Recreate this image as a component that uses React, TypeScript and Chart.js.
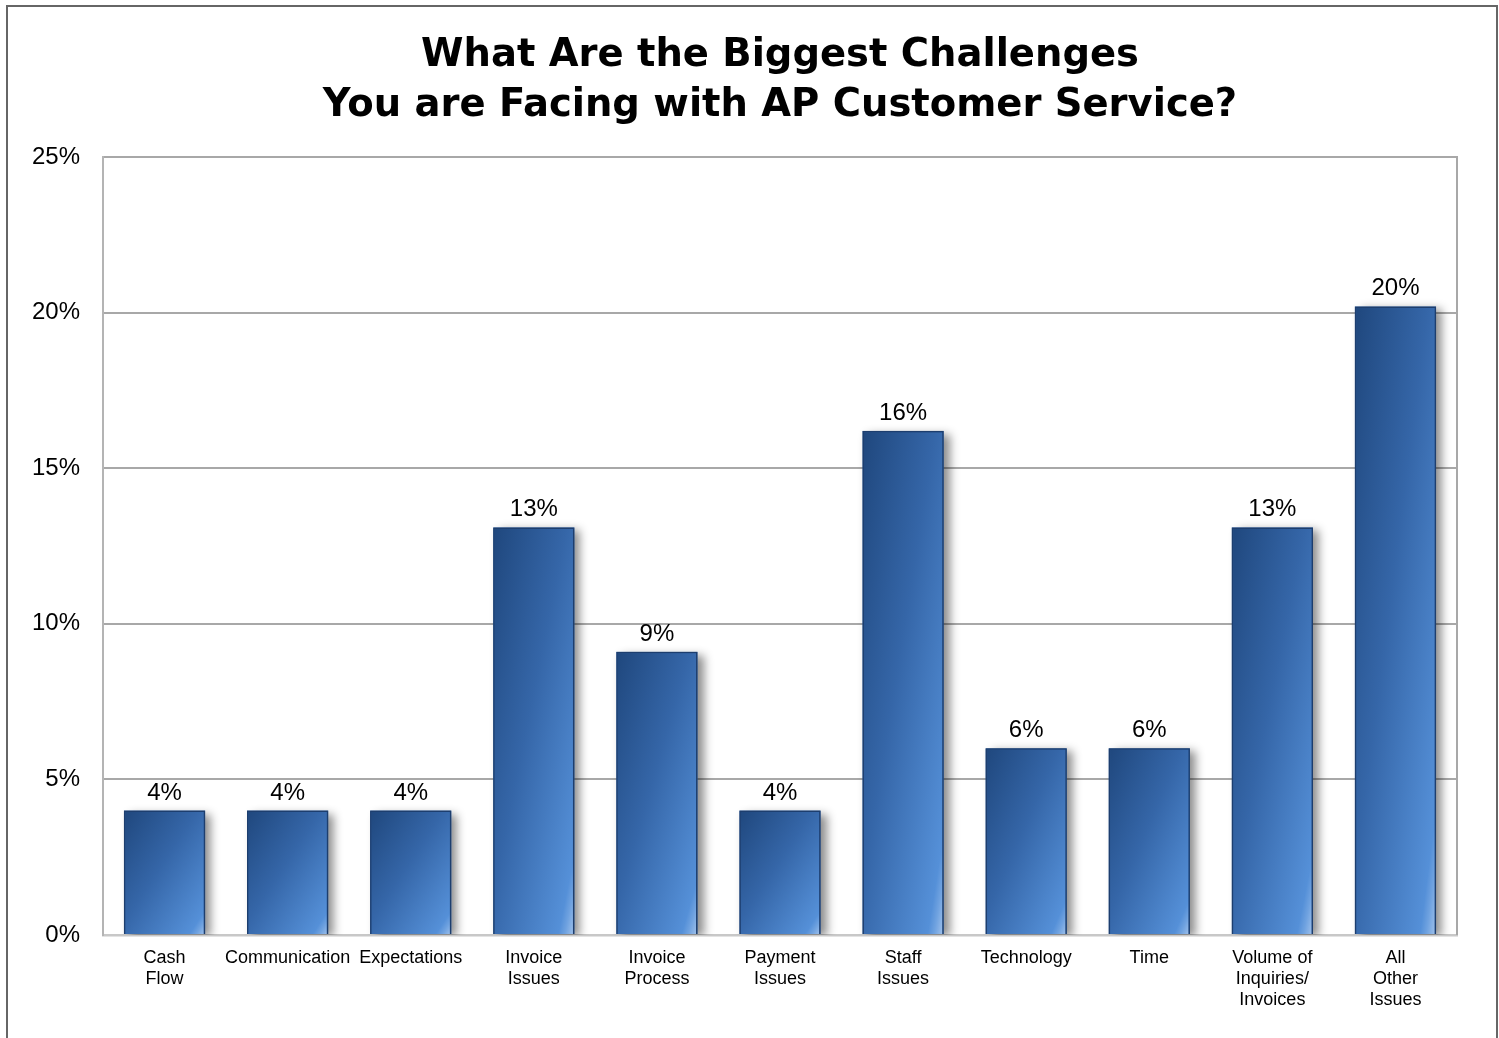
import { useEffect, useRef } from 'react';
import { Chart, registerables } from 'chart.js';

Chart.register(...registerables);

// Survey responses: share of respondents naming each challenge (percent)
const categories: (string | string[])[] = [
  ['Cash', 'Flow'],
  'Communication',
  'Expectations',
  ['Invoice', 'Issues'],
  ['Invoice', 'Process'],
  ['Payment', 'Issues'],
  ['Staff', 'Issues'],
  'Technology',
  'Time',
  ['Volume of', 'Inquiries/', 'Invoices'],
  ['All', 'Other', 'Issues'],
];
const shares = [4.0, 4.0, 4.0, 13.1, 9.1, 4.0, 16.2, 6.0, 6.0, 13.1, 20.2];
const yTicks = [0, 5, 10, 15, 20, 25];
const titleLines = ['What Are the Biggest Challenges', 'You are Facing with AP Customer Service?'];

const FONT = "'Liberation Sans', Arial, Helvetica, sans-serif";
const TITLE_FONT = "'DejaVu Sans', 'Liberation Sans', Arial, sans-serif";
const BAR_PCT = 0.66;

// Diagonal gradient normalised to each bar's box (top-left dark → bottom-right light)
function barFill(c: any) {
  const chart = c.chart;
  const xs = chart.scales?.x;
  const ys = chart.scales?.y;
  if (!xs || !ys || c.type !== 'data' || !chart.chartArea) return '#3a6cae';
  const cx = xs.getPixelForValue(c.dataIndex);
  const w = (xs.width / categories.length) * BAR_PCT;
  const top = ys.getPixelForValue(c.raw);
  const bottom = ys.getPixelForValue(0);
  const h = Math.max(bottom - top, 1);
  const x0 = cx - w / 2;
  const y0 = top;
  const k = (2 * w * h) / (w * w + h * h);
  const g = chart.ctx.createLinearGradient(x0, y0, x0 + h * k, y0 + w * k);
  g.addColorStop(0, '#1f477d');
  g.addColorStop(0.45, '#3566a8');
  g.addColorStop(0.9, '#5590d8');
  g.addColorStop(0.94, '#6fa2e0');
  g.addColorStop(1, '#a4c4ec');
  return g;
}

// Soft drop shadow behind every bar, drawn from the bar elements' geometry
const barShadow = {
  id: 'barShadow',
  beforeDatasetsDraw(chart: any) {
    const { ctx, chartArea } = chart;
    const meta = chart.getDatasetMeta(0);
    ctx.save();
    ctx.beginPath();
    ctx.rect(chartArea.left, chartArea.top - 20, chartArea.width, chartArea.height + 20);
    ctx.clip();
    ctx.shadowColor = 'rgba(0,0,0,0.45)';
    ctx.shadowBlur = 9;
    ctx.shadowOffsetX = 6;
    ctx.shadowOffsetY = 3;
    ctx.fillStyle = '#2a5590';
    meta.data.forEach((el: any) => {
      const { x, y, base, width } = el.getProps(['x', 'y', 'base', 'width'], true);
      ctx.fillRect(x - width / 2, Math.min(y, base), width, Math.abs(base - y));
    });
    ctx.restore();
  },
};

const plotFrame = {
  id: 'plotFrame',
  beforeDatasetsDraw(chart: any) {
    const { ctx, chartArea } = chart;
    ctx.save();
    ctx.strokeStyle = '#a8a8a8';
    ctx.lineWidth = 2;
    ctx.beginPath();
    ctx.moveTo(chartArea.right, chartArea.top - 1);
    ctx.lineTo(chartArea.right, chartArea.bottom);
    ctx.stroke();
    ctx.restore();
  },
};

const valueLabels = {
  id: 'valueLabels',
  afterDatasetsDraw(chart: any) {
    const { ctx } = chart;
    const meta = chart.getDatasetMeta(0);
    const data = chart.data.datasets[0].data as number[];
    ctx.save();
    ctx.font = `24px ${FONT}`;
    ctx.fillStyle = '#000';
    ctx.textAlign = 'center';
    ctx.textBaseline = 'alphabetic';
    meta.data.forEach((el: any, i: number) => {
      ctx.fillText(`${Math.round(data[i])}%`, el.x, el.y - 11);
    });
    ctx.restore();
  },
};

export default function App() {
  const ref = useRef<HTMLCanvasElement>(null);

  useEffect(() => {
    const chart = new Chart(ref.current!, {
      type: 'bar',
      data: {
        labels: categories,
        datasets: [
          {
            data: shares,
            backgroundColor: barFill,
            borderColor: '#1d3e6e',
            borderWidth: 1.5,
            barPercentage: BAR_PCT,
            categoryPercentage: 1,
          },
        ],
      },
      options: {
        animation: false,
        responsive: true,
        maintainAspectRatio: false,
        layout: { padding: { left: 0, right: 39, top: 0, bottom: 0 } },
        plugins: {
          legend: { display: false },
          tooltip: { enabled: false },
          title: {
            display: true,
            text: titleLines,
            fullSize: false,
            color: '#000',
            font: { family: TITLE_FONT, size: 38.5, weight: 'bold', lineHeight: 1.3 },
            padding: { top: 24, bottom: 26 },
          },
        },
        scales: {
          x: {
            grid: { display: false, drawTicks: false },
            border: { display: true, color: '#c8c8c8', width: 2.5 },
            ticks: {
              color: '#000',
              font: { family: FONT, size: 18, lineHeight: 1.15 },
              padding: 13,
              maxRotation: 0,
              autoSkip: false,
            },
            afterFit: (s: any) => {
              s.height = 103;
            },
          },
          y: {
            min: yTicks[0],
            max: yTicks[yTicks.length - 1],
            grid: { color: '#a8a8a8', lineWidth: 2, drawTicks: false },
            border: { display: true, color: '#b4b4b4', width: 2 },
            ticks: {
              stepSize: yTicks[1] - yTicks[0],
              color: '#000',
              font: { family: FONT, size: 24 },
              padding: 23,
              callback: (v: any) => `${v}%`,
            },
            afterFit: (s: any) => {
              s.width = 95;
            },
          },
        },
      },
      plugins: [plotFrame, barShadow, valueLabels],
    });
    return () => chart.destroy();
  }, []);

  return (
    <div
      style={{
        position: 'fixed',
        left: 6,
        top: 5,
        width: 1492,
        height: 1033,
        boxSizing: 'border-box',
        borderTop: '2px solid #666',
        borderLeft: '2px solid #666',
        borderRight: '2px solid #666',
        background: '#fff',
      }}
    >
      <div style={{ position: 'relative', width: '100%', height: '100%' }}>
        <canvas ref={ref} />
      </div>
    </div>
  );
}
